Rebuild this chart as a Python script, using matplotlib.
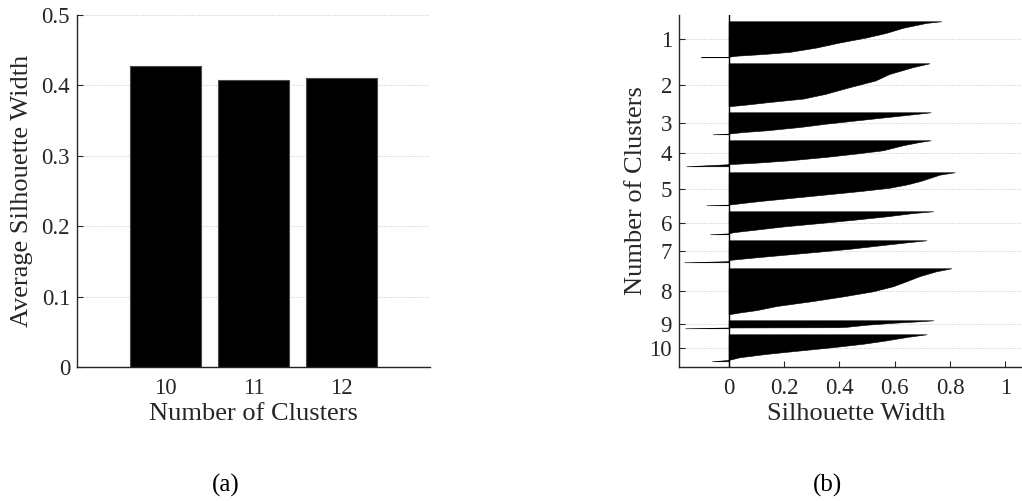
import numpy as np
import matplotlib
matplotlib.use("Agg")
import matplotlib.pyplot as plt

plt.rcParams['font.family'] = ['Liberation Serif', 'DejaVu Serif']

# (a) average silhouette width per number of clusters
n_clusters = [10, 11, 12]
avg_width = [0.428, 0.408, 0.410]

# (b) silhouette profile for the 10-cluster solution
cluster_labels = ['1', '2', '3', '4', '5', '6', '7', '8', '9', '10']
cluster_sizes = [36, 43, 22, 26, 33, 23, 22, 46, 8, 27]

# relative depth inside each cluster (0 = top, 1 = bottom) and the silhouette value there
sil_depth = [
    [0, 0.045, 0.18, 0.32, 0.45, 0.59, 0.73, 0.85, 0.91, 0.955, 0.985, 1.0],
    [0, 0.09, 0.25, 0.40, 0.55, 0.71, 0.82, 0.90, 0.96, 1.0],
    [0, 0.075, 0.22, 0.37, 0.52, 0.67, 0.82, 0.90, 0.97, 1.0],
    [0, 0.064, 0.19, 0.385, 0.51, 0.64, 0.77, 0.86, 0.92, 1.0],
    [0, 0.07, 0.17, 0.27, 0.37, 0.47, 0.57, 0.67, 0.77, 0.87, 0.94, 0.98, 1.0],
    [0, 0.074, 0.22, 0.37, 0.51, 0.66, 0.81, 0.91, 0.96, 1.0],
    [0, 0.077, 0.23, 0.385, 0.54, 0.69, 0.80, 0.89, 0.95, 1.0],
    [0, 0.065, 0.17, 0.28, 0.39, 0.50, 0.61, 0.71, 0.82, 0.91, 0.96, 1.0],
    [0, 0.1, 0.3, 0.55, 0.8, 0.87, 0.9, 1.0],
    [0, 0.1, 0.225, 0.35, 0.475, 0.6, 0.725, 0.85, 0.95, 1.0],
]
sil_value = [
    [0.768, 0.714, 0.63, 0.57, 0.497, 0.40, 0.316, 0.22, 0.124, 0.03, 0.0, -0.10],
    [0.726, 0.665, 0.58, 0.53, 0.44, 0.35, 0.27, 0.148, 0.064, 0.0],
    [0.73, 0.677, 0.57, 0.46, 0.35, 0.256, 0.136, 0.05, 0.0, -0.057],
    [0.73, 0.69, 0.63, 0.557, 0.46, 0.35, 0.22, 0.10, 0.0, -0.153],
    [0.817, 0.763, 0.727, 0.69, 0.643, 0.58, 0.474, 0.354, 0.233, 0.113, 0.04, 0.0, -0.08],
    [0.739, 0.667, 0.57, 0.45, 0.33, 0.197, 0.089, 0.017, 0.0, -0.067],
    [0.715, 0.655, 0.546, 0.438, 0.306, 0.173, 0.077, 0.005, 0.0, -0.16],
    [0.805, 0.75, 0.69, 0.643, 0.594, 0.522, 0.414, 0.306, 0.173, 0.1, 0.04, 0.0],
    [0.74, 0.70, 0.60, 0.50, 0.43, 0.40, 0.0, -0.157],
    [0.715, 0.643, 0.57, 0.486, 0.378, 0.257, 0.137, 0.04, 0.0, -0.06],
]

text_color = '#262626'
grid_kw = dict(color='#c8c8c8', linestyle=(0, (1, 1.5)), linewidth=0.7)
tick_fs = 16.5
label_fs = 19

fig = plt.figure(figsize=(10.22, 5.01), dpi=100)

# ---------- (a) ----------
ax1 = fig.add_axes([0.0753, 0.2675, 0.3454, 0.7026])
ax1.bar(n_clusters, avg_width, width=0.8, color='black', edgecolor='#4a4a4a',
        linewidth=0.8, zorder=3)
ax1.set_xlim(9, 13)
ax1.set_ylim(0, 0.5)
ax1.set_xticks(n_clusters)
ax1.set_xticklabels([str(c) for c in n_clusters])
yt = [0, 0.1, 0.2, 0.3, 0.4, 0.5]
ax1.set_yticks(yt)
ax1.set_yticklabels(['0', '0.1', '0.2', '0.3', '0.4', '0.5'])
for v in yt[1:]:
    ax1.axhline(v, zorder=1, **grid_kw)
ax1.set_xlabel('Number of Clusters', fontsize=label_fs, color=text_color)
ax1.set_ylabel('Average Silhouette Width', fontsize=label_fs, color=text_color)
ax1.xaxis.set_label_coords(0.5, -0.102)
ax1.yaxis.set_label_coords(-0.125, 0.5)

# ---------- (b) ----------
ax2 = fig.add_axes([0.6644, 0.2675, 0.3346, 0.7026])
gap = 6
top_margin = 6.3
start = top_margin
centers = []
for size, depth, vals in zip(cluster_sizes, sil_depth, sil_value):
    y = start + np.array(depth) * size
    ax2.fill_betweenx(y, 0, vals, color='black', edgecolor='black', linewidth=0.4, zorder=3)
    centers.append(start + size / 2)
    start += size + gap
total = start - gap + 5.7
ax2.set_ylim(total, 0)
ax2.set_xlim(-0.179, 1.056)
ax2.axvline(0, color='black', linewidth=1.0, zorder=4)
ax2.set_yticks(centers)
ax2.set_yticklabels(cluster_labels)
for c in centers:
    ax2.axhline(c, zorder=1, **grid_kw)
xt = [0, 0.2, 0.4, 0.6, 0.8, 1.0]
ax2.set_xticks(xt)
ax2.set_xticklabels(['0', '0.2', '0.4', '0.6', '0.8', '1'])
ax2.set_xlabel('Silhouette Width', fontsize=label_fs, color=text_color)
ax2.set_ylabel('Number of Clusters', fontsize=label_fs, color=text_color)
ax2.xaxis.set_label_coords(0.518, -0.102)
ax2.yaxis.set_label_coords(-0.094, 0.5)

for ax in (ax1, ax2):
    for side in ('top', 'right'):
        ax.spines[side].set_visible(False)
    for side in ('left', 'bottom'):
        ax.spines[side].set_color(text_color)
        ax.spines[side].set_linewidth(1.0)
    ax.tick_params(direction='in', length=4, width=0.8, colors=text_color,
                   labelsize=tick_fs)
    ax.tick_params(axis='x', pad=8)
    ax.tick_params(axis='y', pad=5)

fig.text(226 / 1022, 1 - 485 / 501, '(a)', ha='center', va='center', fontsize=18, color='black')
fig.text(828 / 1022, 1 - 485 / 501, '(b)', ha='center', va='center', fontsize=18, color='black')

fig.savefig('out.png', dpi=100)
